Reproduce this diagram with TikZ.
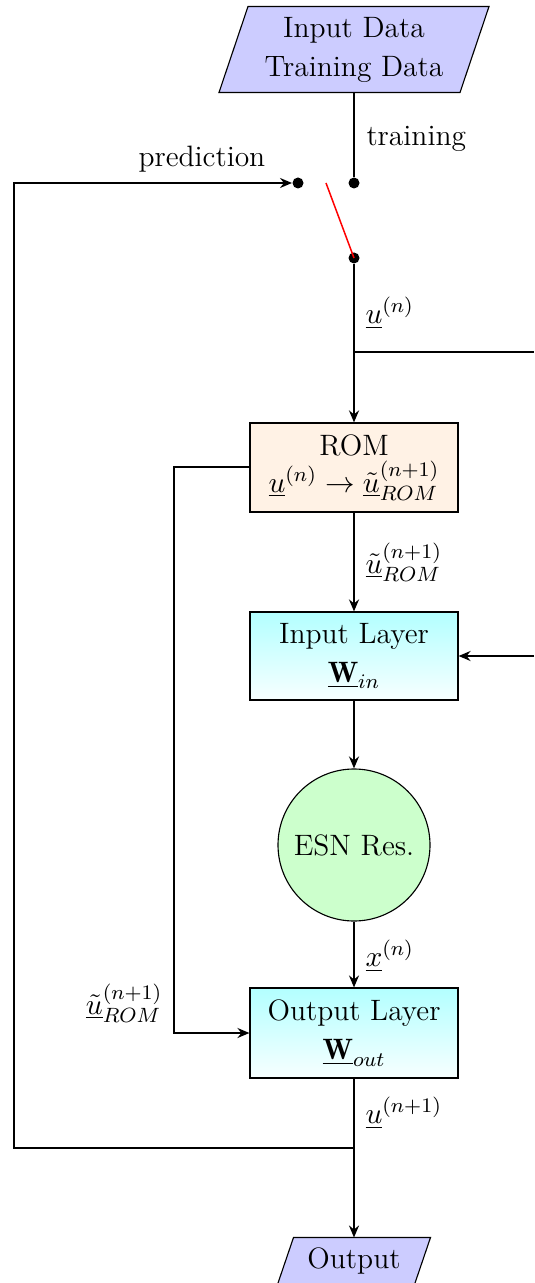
\RequirePackage{fix-cm}
\documentclass[tikz,border=0pt]{standalone}
\usepackage{fontspec}
\usetikzlibrary{arrows.meta,backgrounds}

\tikzset{
  base/.style={font=\fontsize{11.8}{15.6}\selectfont, align=center, inner sep=0pt},
  block/.style={base, draw, line width=0.45pt, minimum width=83.2pt},
  datashape/.style={base, minimum width=96pt},
  joint/.style={circle, fill=black, inner sep=0pt, minimum size=4.4pt},
  lbl/.style={font=\fontsize{11.8}{15.6}\selectfont, inner sep=0pt},
  wire/.style={line width=0.8pt},
  arr/.style={wire, -{Stealth[length=4.8pt, width=4pt, inset=1.6pt]}},
  slanted/.style={fill=blue!20, draw, line width=0.45pt},
}

\begin{document}
\begin{tikzpicture}[x=0.4pt, y=-0.4pt]
\useasboundingbox (0,0) rectangle (534,1283);

% data source and sink
\node[datashape, minimum height=34pt] (in) at (354,49.5) {Input Data\\Training Data};
\node[datashape, minimum width=54.4pt, minimum height=18.4pt] (out) at (354,1261) {Output};
\begin{scope}[on background layer]
  \filldraw[slanted] ([xshift=-5.8pt]in.south west) -- ([xshift=-5.8pt]in.south east)
    -- ([xshift=5.8pt]in.north east) -- ([xshift=5.8pt]in.north west) -- cycle;
  \filldraw[slanted] ([xshift=-3.2pt]out.south west) -- ([xshift=-3.2pt]out.south east)
    -- ([xshift=3.2pt]out.north east) -- ([xshift=3.2pt]out.north west) -- cycle;
\end{scope}

% switch contacts
\node[joint] (tdot) at (354,183) {};
\node[joint] (pdot) at (298,183) {};
\node[joint] (sdot) at (354,258) {};
\coordinate (lever) at (326,183);

% processing blocks
\node[block, fill=orange!10, minimum height=35.6pt] (rom) at (354,467.5)
  {ROM\\[-1pt]$\underline{u}^{(n)}\rightarrow\underline{\tilde{u}}^{(n+1)}_{ROM}$};
\node[block, top color=cyan!30, bottom color=cyan!3, minimum height=35.2pt] (inl) at (354,656)
  {Input Layer\\$\underline{\mathbf{W}}_{in}$};
\node[base, circle, draw, line width=0.45pt, fill=green!20, minimum size=60.8pt] (esn) at (354,845) {ESN Res.};
\node[block, top color=cyan!30, bottom color=cyan!3, minimum height=36pt] (outl) at (354,1033)
  {Output Layer\\$\underline{\mathbf{W}}_{out}$};

% routing points
\coordinate (j1) at (354,352);
\coordinate (e1) at (534,352);
\coordinate (e2) at (534,656);
\coordinate (c1) at (174,467.5);
\coordinate (j2) at (354,1148);
\coordinate (c2) at (14,1148);
\coordinate (c3) at (14,183);

% connectors
\draw[wire] (in.south) -- (tdot);
\draw[red, line width=0.6pt] (lever) -- (sdot.center);
\draw[wire] (sdot) -- (j1);
\draw[arr] (j1) -- (rom.north);
\draw[wire] (j1) -- (e1);
\draw[arr] (rom.south) -- (inl.north);
\draw[arr] (e2) -- (inl.east);
\draw[arr] (inl.south) -- (esn.north);
\draw[arr] (esn.south) -- (outl.north);
\draw[arr] (rom.west) -- (c1) |- (outl.west);
\draw[wire] (outl.south) -- (j2);
\draw[arr] (j2) -- (out.north);
\draw[arr] (j2) -- (c2) -- (c3) -- (pdot);

% labels
\node[lbl, anchor=base west] (ltrain) at (366,146) {training};
\node[lbl, anchor=base west] (lpred) at (138,167) {prediction};
\node[lbl, anchor=west] (lun) at (365,313) {$\underline{u}^{(n)}$};
\node[lbl, anchor=west] (lrom) at (365,562) {$\underline{\tilde{u}}^{(n+1)}_{ROM}$};
\node[lbl, anchor=west] (lx) at (365,956) {$\underline{x}^{(n)}$};
\node[lbl, anchor=west] (lun1) at (365,1113) {$\underline{u}^{(n+1)}$};
\node[lbl, anchor=east] (lrom2) at (163,1003) {$\underline{\tilde{u}}^{(n+1)}_{ROM}$};
\end{tikzpicture}
\end{document}
